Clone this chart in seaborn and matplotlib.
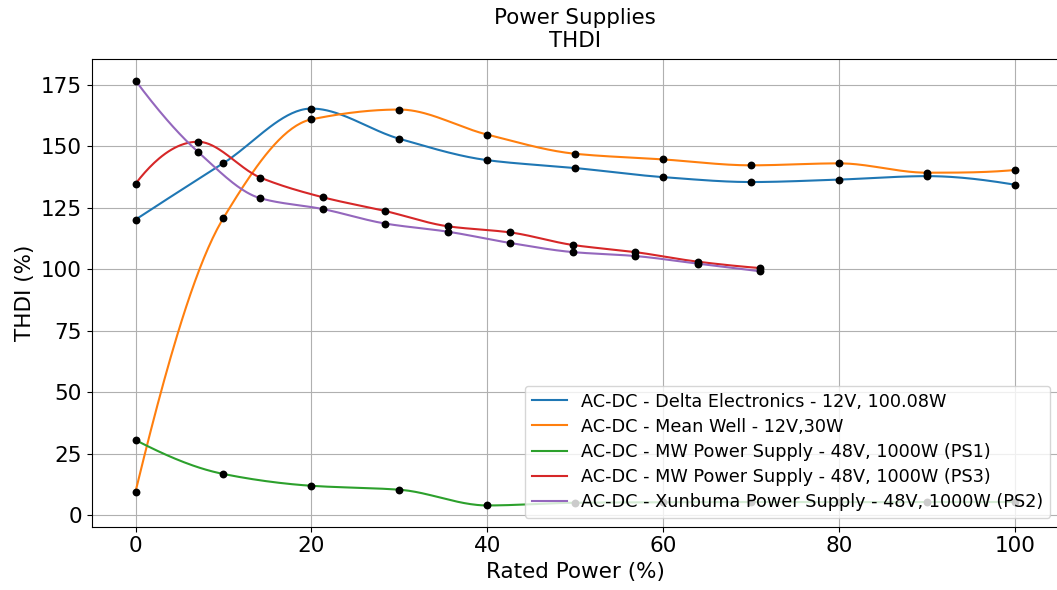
import numpy as np
import pandas as pd
import matplotlib
matplotlib.use("Agg")
import matplotlib.pyplot as plt
import seaborn as sns

# ---- data ----
series_names = [
    "AC-DC - Delta Electronics - 12V, 100.08W",
    "AC-DC - Mean Well - 12V,30W",
    "AC-DC - MW Power Supply - 48V, 1000W (PS1)",
    "AC-DC - MW Power Supply - 48V, 1000W (PS3)",
    "AC-DC - Xunbuma Power Supply - 48V, 1000W (PS2)",
]
colors = ["#1f77b4", "#ff7f0e", "#2ca02c", "#d62728", "#9467bd"]

x_delta = [0, 10, 20, 30, 40, 50, 60, 70, 80, 90, 100]
y_delta = [120.2, 143.2, 165.4, 153.1, 144.4, 141.2, 137.5, 135.5, 136.5, 137.9, 134.4]

x_meanwell = [0, 10, 20, 30, 40, 50, 60, 70, 80, 90, 100]
y_meanwell = [9.5, 120.9, 161.0, 165.0, 154.8, 147.0, 144.7, 142.3, 143.1, 139.3, 140.4]

x_ps1 = [0, 10, 20, 30, 40, 50, 60, 70, 80, 90, 100]
y_ps1 = [30.5, 16.7, 11.9, 10.3, 3.9, 5.0, 5.2, 5.3, 5.2, 5.3, 5.3]

x_ps3 = [0, 7.1, 14.2, 21.3, 28.4, 35.5, 42.6, 49.7, 56.8, 63.9, 71.0]
y_ps3 = [134.8, 151.9, 137.3, 129.3, 123.7, 117.5, 115.0, 109.9, 107.0, 103.1, 100.5]

x_ps2 = [0, 7.1, 14.2, 21.3, 28.4, 35.5, 42.6, 49.7, 56.8, 63.9, 71.0]
y_ps2 = [176.8, 147.8, 128.9, 124.5, 118.6, 115.3, 110.7, 107.0, 105.4, 102.3, 99.2]

xs_all = [x_delta, x_meanwell, x_ps1, x_ps3, x_ps2]
ys_all = [y_delta, y_meanwell, y_ps1, y_ps3, y_ps2]


def _edge_slope(h0, h1, d0, d1):
    s = ((2 * h0 + h1) * d0 - h0 * d1) / (h0 + h1)
    if np.sign(s) != np.sign(d0):
        s = 0.0
    elif np.sign(d0) != np.sign(d1) and abs(s) > abs(3 * d0):
        s = 3 * d0
    return s


def pchip_curve(x, y, n=400):
    """Monotone piecewise cubic Hermite (PCHIP) smoothing for drawing."""
    x = np.asarray(x, float)
    y = np.asarray(y, float)
    m = len(x)
    h = np.diff(x)
    delta = np.diff(y) / h
    d = np.zeros(m)
    for k in range(1, m - 1):
        if delta[k - 1] * delta[k] <= 0:
            d[k] = 0.0
        else:
            w1 = 2 * h[k] + h[k - 1]
            w2 = h[k] + 2 * h[k - 1]
            d[k] = (w1 + w2) / (w1 / delta[k - 1] + w2 / delta[k])
    d[0] = _edge_slope(h[0], h[1], delta[0], delta[1])
    d[-1] = _edge_slope(h[-1], h[-2], delta[-1], delta[-2])
    xx = np.linspace(x[0], x[-1], n)
    idx = np.clip(np.searchsorted(x, xx) - 1, 0, m - 2)
    hk = h[idx]
    t = (xx - x[idx]) / hk
    h00 = 2 * t**3 - 3 * t**2 + 1
    h10 = t**3 - 2 * t**2 + t
    h01 = -2 * t**3 + 3 * t**2
    h11 = t**3 - t**2
    yy = h00 * y[idx] + h10 * hk * d[idx] + h01 * y[idx + 1] + h11 * hk * d[idx + 1]
    return xx, yy


curve_rows = []
point_rows = []
for name, xs, ys in zip(series_names, xs_all, ys_all):
    xx, yy = pchip_curve(xs, ys)
    curve_rows.append(pd.DataFrame({"x": xx, "y": yy, "series": name}))
    point_rows.append(pd.DataFrame({"x": xs, "y": ys, "series": name}))
curves = pd.concat(curve_rows, ignore_index=True)
points = pd.concat(point_rows, ignore_index=True)

fig = plt.figure(figsize=(10.57, 5.90), dpi=100)
ax = fig.add_axes([0.0866, 0.1073, 0.9153, 0.7922])

sns.lineplot(data=curves, x="x", y="y", hue="series", hue_order=series_names,
             palette=colors, sort=False, linewidth=1.5, ax=ax, zorder=2)
sns.scatterplot(data=points, x="x", y="y", color="black", s=32, edgecolor="black",
                linewidth=0, ax=ax, legend=False, zorder=3)

ax.grid(True, color="#b0b0b0", linewidth=0.8)
ax.set_axisbelow(True)
ax.set_title("Power Supplies\nTHDI", fontsize=15.4, pad=8.5)
ax.set_xlabel("Rated Power (%)", fontsize=15.5)
ax.set_ylabel("THDI (%)", fontsize=15.5)
ax.tick_params(labelsize=15.5)
ax.set_xticks([0, 20, 40, 60, 80, 100])
ax.set_yticks([0, 25, 50, 75, 100, 125, 150, 175])
ax.legend(loc="lower right", fontsize=12.7, labelspacing=0.4)

fig.savefig("out.png", dpi=100)
